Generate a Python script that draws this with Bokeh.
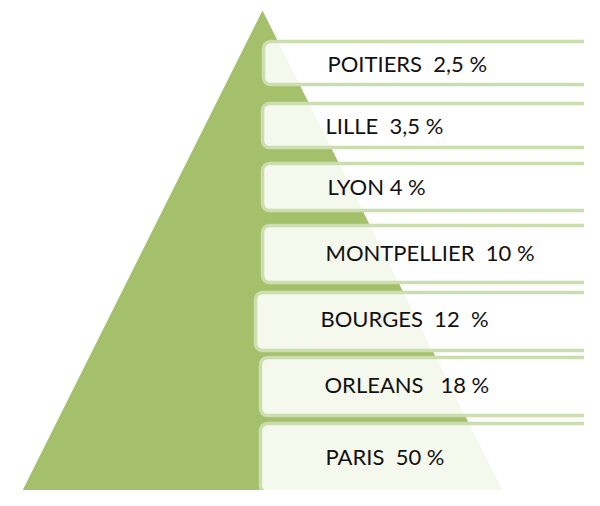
from bokeh.plotting import figure
from bokeh.models import Range1d, ColumnDataSource
from bokeh.core.properties import value
from bokeh.embed import file_html
from bokeh.resources import INLINE

NB = "\u00a0"

# data
cities = ["POITIERS", "LILLE", "LYON", "MONTPELLIER", "BOURGES", "ORLEANS", "PARIS"]
shares = ["2,5", "3,5", "4", "10", "12", "18", "50"]
gaps = [2, 2, 1, 2, 2, 3, 2]
pct_gaps = [1, 1, 1, 1, 2, 1, 1]
labels = [c + NB * g + s + NB * pg + "%" for c, g, s, pg in zip(cities, gaps, shares, pct_gaps)]

# layout (reference pixel coordinates)
box_left = [263, 262, 262, 262, 255, 260, 260]
box_right = [598, 593, 594, 593, 592, 597, 606]
box_top = [41, 103, 163, 225, 292, 357, 423]
box_bottom = [84, 147, 210, 282, 350, 415, 492]
text_x = [327, 325, 327, 325, 320, 324, 325]
text_y = [63, 125, 186, 252, 318, 384, 456]
pyr_x = [14, 262, 510]
pyr_y = [506, 10, 506]

p = figure(width=584, height=490, output_backend="svg", toolbar_location=None,
           x_range=Range1d(0, 584), y_range=Range1d(490, 0),
           min_border=0)
p.axis.visible = False
p.grid.visible = False
p.outline_line_color = None
p.background_fill_color = "white"

p.patch(pyr_x, pyr_y, fill_color="#A5C06A", line_color=None)

src = ColumnDataSource(dict(left=box_left, right=box_right, top=box_top, bottom=box_bottom,
                            city=cities, share=shares))
p.quad(left="left", right="right", top="top", bottom="bottom", source=src,
       fill_color="white", fill_alpha=0.88, line_color="#CCDDB0", line_width=3.5,
       border_radius=7)

tsrc = ColumnDataSource(dict(x=text_x, y=text_y, t=labels))
p.text(x="x", y="y", text="t", source=tsrc, text_font=value("Lato"),
       text_font_size="22px", text_baseline="middle", text_align="left",
       text_color="#111111")

open("out.html", "w").write(file_html(p, INLINE))
